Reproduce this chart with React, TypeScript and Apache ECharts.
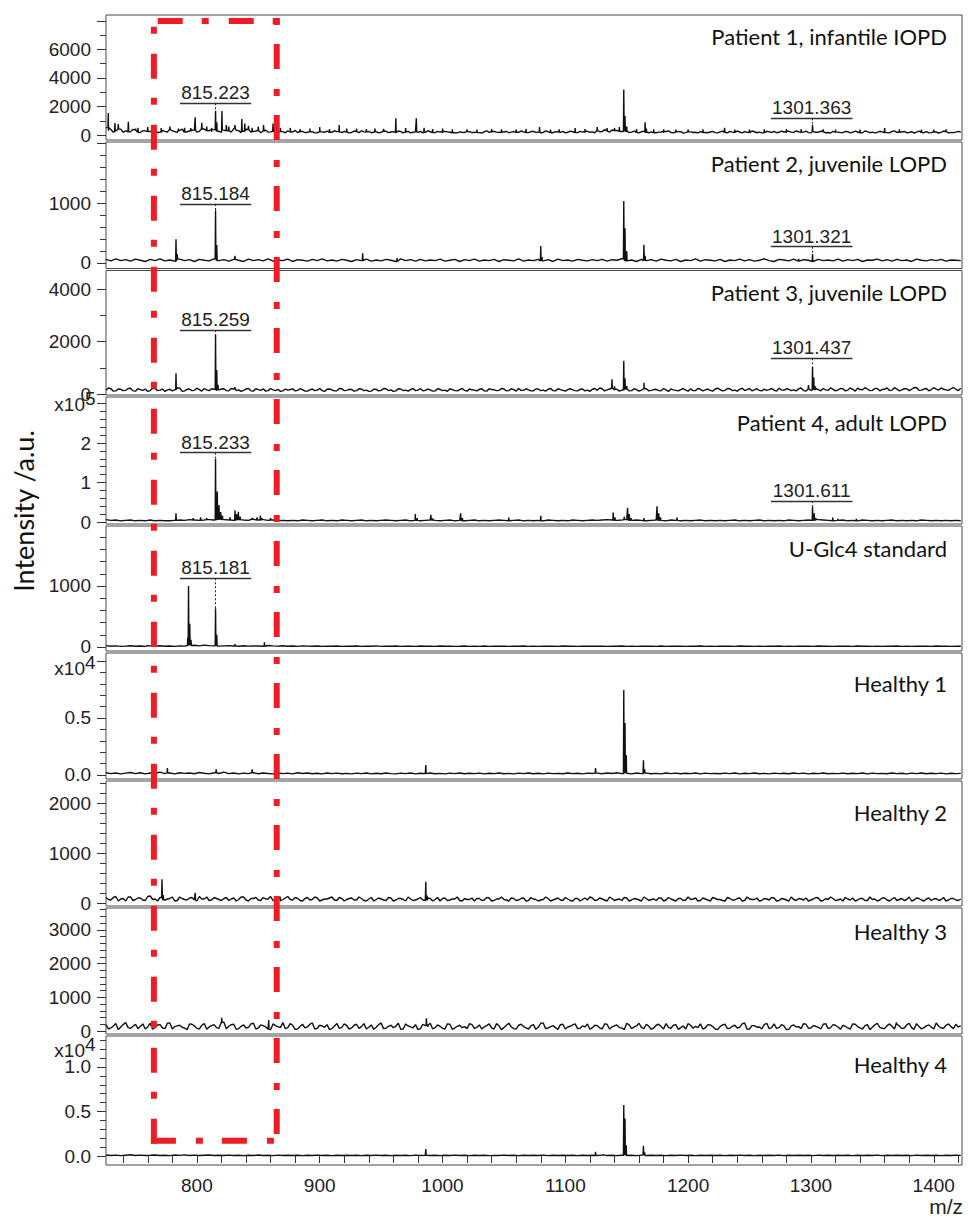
import React, { useEffect, useRef } from "react";
import * as echarts from "echarts";

// ---------- axis ranges / ticks ----------
const X_MIN = 726;
const X_MAX = 1423;
const MZ_START = 726;
const MZ_STEP = 4;
const X_TICK_STEP = 20;
const X_LABELS = [800, 900, 1000, 1100, 1200, 1300, 1400];

const PANEL_TITLES = [
  "Patient 1, infantile IOPD",
  "Patient 2, juvenile LOPD",
  "Patient 3, juvenile LOPD",
  "Patient 4, adult LOPD",
  "U-Glc4 standard",
  "Healthy 1",
  "Healthy 2",
  "Healthy 3",
  "Healthy 4",
];

const Y_MIN = [-350, -92, -38, -0.0506, -65.6, -0.0351, -60, -89, -0.101];
const Y_MAX = [8420, 2017, 4714, 3.165, 1983, 1.07, 2440, 3650, 1.348];
const Y_MAJOR_TICKS = [
  [0, 2000, 4000, 6000, 8000],
  [0, 1000, 2000],
  [0, 2000, 4000],
  [0, 1, 2, 3],
  [0, 1000],
  [0, 0.5, 1],
  [0, 1000, 2000],
  [0, 1000, 2000, 3000],
  [0, 0.5, 1],
];
const Y_TICK_LABELS = [
  [0, 2000, 4000, 6000],
  [0, 1000],
  [0, 2000, 4000],
  [0, 1, 2],
  [0, 1000],
  [0, 0.5],
  [0, 1000, 2000],
  [0, 1000, 2000, 3000],
  [0, 0.5, 1],
];
const Y_MINOR_STEP = [1000, 200, 1000, 0.2, 200, 0.1, 200, 200, 0.1];
const Y_DECIMALS = [0, 0, 0, 0, 0, 1, 0, 0, 1];
const EXPONENTS = ["", "", "", "5", "", "4", "", "", "4"];

// ---------- baseline noise (m/z 726..1422 every 4) ----------
const NOISE_P1 = [
  520, 380, 260, 410, 300, 220, 350, 180, 290, 240, 330, 200, 260, 380, 240, 310, 190, 280, 350, 260, 420, 300, 380, 260, 340,
  290, 450, 310, 260, 380, 240, 320, 280, 200, 260, 180, 240, 300, 210, 170, 250, 190, 230, 160, 220, 280, 190, 240, 170, 210,
  180, 240, 300, 200, 160, 230, 190, 260, 210, 170, 240, 200, 150, 220, 260, 180, 230, 170, 200, 250, 190, 160, 220, 180, 240,
  200, 170, 230, 190, 250, 180, 210, 160, 240, 190, 220, 170, 260, 200, 180, 230, 160, 210, 250, 190, 230, 170, 200, 260, 220,
  300, 240, 280, 350, 320, 250, 260, 200, 180, 230, 190, 220, 160, 210, 250, 180, 200, 230, 170, 220, 190, 240, 180, 210, 170,
  220, 190, 250, 180, 210, 240, 170, 230, 200, 160, 220, 250, 190, 210, 260, 180, 230, 200, 170, 240, 190, 220, 180, 250, 200,
  170, 230, 190, 210, 160, 240, 200, 180, 220, 170, 250, 190, 210, 160, 230, 200, 180, 240, 170, 210, 190, 230, 180, 200, 210,
];
const NOISE_P2 = [
  60, 35, 70, 40, 55, 30, 65, 45, 25, 60, 40, 70, 35, 50, 30, 65, 40, 55, 25, 60, 45, 35, 70, 40, 55,
  30, 60, 45, 25, 65, 40, 55, 35, 70, 30, 50, 40, 65, 25, 55, 45, 30, 60, 40, 70, 35, 50, 30, 60, 45,
  25, 55, 40, 65, 30, 50, 35, 60, 45, 25, 70, 40, 55, 30, 60, 35, 50, 40, 65, 30, 45, 60, 25, 55, 40,
  65, 30, 50, 40, 60, 25, 55, 45, 35, 70, 30, 50, 40, 60, 35, 55, 25, 65, 40, 50, 30, 60, 45, 35, 55,
  40, 60, 30, 55, 45, 70, 35, 50, 25, 60, 40, 55, 30, 65, 45, 35, 60, 25, 50, 40, 70, 30, 55, 45, 35,
  60, 25, 50, 40, 65, 35, 55, 30, 45, 70, 40, 25, 60, 50, 35, 65, 30, 55, 45, 25, 60, 40, 50, 35, 65,
  30, 55, 40, 60, 25, 50, 45, 65, 35, 55, 30, 60, 40, 50, 25, 65, 45, 35, 55, 40, 60, 30, 50, 45, 40,
];
const NOISE_P3 = [
  150, 200, 120, 180, 140, 220, 110, 170, 190, 130, 210, 150, 100, 180, 160, 230, 120, 190, 140, 170, 210, 130, 180, 150, 200,
  120, 190, 160, 140, 210, 110, 170, 200, 130, 160, 180, 120, 150, 200, 140, 170, 110, 190, 150, 130, 180, 160, 120, 200, 140,
  170, 130, 190, 150, 110, 180, 140, 200, 160, 120, 190, 150, 170, 130, 210, 140, 160, 120, 180, 150, 200, 130, 170, 140, 190,
  150, 180, 120, 200, 160, 140, 190, 130, 170, 210, 140, 160, 120, 190, 150, 180, 130, 200, 140, 170, 160, 120, 190, 150, 180,
  140, 200, 160, 220, 180, 150, 190, 130, 170, 150, 200, 140, 180, 120, 160, 190, 140, 170, 150, 200, 130, 180, 160, 140, 190,
  170, 140, 200, 150, 180, 130, 210, 160, 140, 190, 170, 150, 220, 140, 180, 160, 200, 130, 190, 150, 170, 210, 140, 180, 160,
  200, 150, 180, 220, 160, 190, 140, 210, 170, 230, 150, 190, 160, 200, 180, 240, 150, 210, 170, 190, 230, 160, 200, 180, 220,
];
const NOISE_P4 = [
  0.06, 0.04, 0.05, 0.03, 0.04, 0.05, 0.03, 0.04, 0.03, 0.05, 0.03, 0.04, 0.03, 0.03, 0.04, 0.05, 0.04, 0.06, 0.05, 0.04, 0.05, 0.06, 0.05, 0.07, 0.06,
  0.05, 0.04, 0.06, 0.05, 0.04, 0.07, 0.05, 0.06, 0.04, 0.05, 0.03, 0.04, 0.03, 0.04, 0.03, 0.05, 0.04, 0.03, 0.04, 0.05, 0.03, 0.04, 0.03, 0.05, 0.04,
  0.03, 0.04, 0.05, 0.03, 0.04, 0.03, 0.04, 0.05, 0.04, 0.03, 0.04, 0.05, 0.03, 0.04, 0.03, 0.04, 0.05, 0.04, 0.03, 0.04, 0.05, 0.03, 0.04, 0.03, 0.04,
  0.05, 0.03, 0.04, 0.03, 0.04, 0.05, 0.04, 0.03, 0.04, 0.05, 0.03, 0.04, 0.03, 0.04, 0.03, 0.05, 0.04, 0.03, 0.04, 0.03, 0.05, 0.04, 0.03, 0.04, 0.05,
  0.04, 0.05, 0.06, 0.05, 0.04, 0.05, 0.06, 0.04, 0.05, 0.04, 0.03, 0.04, 0.05, 0.04, 0.03, 0.05, 0.04, 0.03, 0.04, 0.03, 0.04, 0.05, 0.03, 0.04, 0.03,
  0.04, 0.03, 0.04, 0.05, 0.03, 0.04, 0.03, 0.04, 0.05, 0.03, 0.04, 0.03, 0.04, 0.03, 0.05, 0.04, 0.03, 0.04, 0.05, 0.04, 0.06, 0.05, 0.04, 0.03, 0.04,
  0.05, 0.03, 0.04, 0.03, 0.05, 0.04, 0.03, 0.04, 0.03, 0.04, 0.05, 0.03, 0.04, 0.03, 0.04, 0.03, 0.05, 0.04, 0.03, 0.04, 0.03, 0.04, 0.03, 0.04, 0.03,
];
const NOISE_P5 = [
  22, 12, 18, 10, 15, 20, 12, 16, 10, 18, 14, 20, 12, 16, 10, 18, 15, 24, 28, 18, 30, 22, 18, 14, 18,
  22, 16, 12, 20, 14, 18, 16, 12, 24, 18, 14, 20, 12, 16, 10, 18, 14, 12, 16, 10, 14, 12, 16, 10, 14,
  12, 16, 10, 14, 12, 18, 10, 14, 12, 16, 10, 14, 12, 10, 16, 12, 14, 10, 16, 12, 14, 10, 12, 16, 10,
  14, 11, 16, 10, 13, 12, 15, 10, 14, 12, 16, 11, 13, 10, 15, 12, 14, 10, 16, 12, 13, 10, 15, 12, 14,
  12, 15, 10, 14, 12, 16, 11, 13, 10, 15, 12, 14, 11, 16, 10, 13, 12, 15, 10, 14, 12, 16, 11, 13, 10,
  15, 12, 14, 10, 16, 12, 13, 11, 15, 10, 14, 12, 16, 11, 13, 10, 15, 12, 14, 11, 16, 12, 13, 10, 15,
  12, 14, 10, 16, 12, 13, 11, 15, 10, 14, 12, 16, 11, 13, 10, 15, 12, 14, 11, 16, 12, 13, 10, 15, 12,
];
const NOISE_P6 = [
  0.02, 0.012, 0.018, 0.01, 0.016, 0.022, 0.012, 0.02, 0.01, 0.017, 0.013, 0.025, 0.012, 0.018, 0.01, 0.02, 0.014, 0.018, 0.011, 0.022, 0.015, 0.01, 0.02, 0.013, 0.025,
  0.012, 0.018, 0.01, 0.016, 0.012, 0.02, 0.011, 0.017, 0.013, 0.01, 0.018, 0.012, 0.016, 0.01, 0.02, 0.013, 0.017, 0.011, 0.015, 0.01, 0.018, 0.012, 0.016, 0.011, 0.014,
  0.01, 0.016, 0.012, 0.018, 0.01, 0.015, 0.011, 0.017, 0.012, 0.01, 0.016, 0.012, 0.018, 0.01, 0.015, 0.012, 0.017, 0.011, 0.014, 0.01, 0.016, 0.012, 0.018, 0.011, 0.015,
  0.012, 0.016, 0.01, 0.015, 0.012, 0.018, 0.011, 0.014, 0.01, 0.016, 0.012, 0.017, 0.011, 0.015, 0.01, 0.016, 0.012, 0.014, 0.011, 0.018, 0.012, 0.015, 0.01, 0.016, 0.013,
  0.016, 0.011, 0.018, 0.013, 0.02, 0.012, 0.015, 0.01, 0.017, 0.012, 0.016, 0.011, 0.014, 0.01, 0.018, 0.012, 0.016, 0.011, 0.015, 0.012, 0.018, 0.01, 0.016, 0.012, 0.014,
  0.011, 0.016, 0.012, 0.018, 0.01, 0.015, 0.012, 0.017, 0.011, 0.014, 0.01, 0.016, 0.012, 0.015, 0.011, 0.018, 0.012, 0.016, 0.01, 0.015, 0.012, 0.017, 0.011, 0.014, 0.012,
  0.016, 0.011, 0.015, 0.012, 0.018, 0.01, 0.016, 0.012, 0.014, 0.011, 0.017, 0.012, 0.015, 0.01, 0.016, 0.012, 0.018, 0.011, 0.015, 0.012, 0.016, 0.01, 0.015, 0.012, 0.014,
];
const NOISE_P7 = [
  110, 60, 130, 80, 40, 120, 70, 100, 50, 140, 80, 110, 60, 90, 40, 120, 70, 100, 60, 130, 80, 50, 110, 70, 90,
  50, 100, 70, 120, 40, 90, 60, 110, 80, 50, 100, 70, 130, 60, 90, 40, 110, 70, 100, 60, 80, 120, 50, 90, 70,
  100, 60, 90, 40, 110, 70, 80, 50, 100, 60, 90, 40, 80, 60, 110, 50, 90, 70, 40, 100, 60, 80, 50, 90, 70,
  40, 90, 60, 100, 50, 80, 70, 40, 90, 60, 100, 50, 80, 40, 70, 90, 60, 100, 50, 80, 40, 90, 70, 60, 100,
  60, 80, 40, 90, 70, 50, 100, 60, 80, 40, 90, 70, 50, 100, 60, 80, 40, 90, 60, 70, 100, 50, 80, 40, 90,
  70, 40, 90, 60, 100, 50, 80, 70, 40, 90, 60, 100, 50, 80, 40, 70, 90, 60, 40, 80, 100, 50, 70, 90, 60,
  40, 80, 100, 60, 90, 50, 70, 40, 100, 60, 80, 50, 90, 70, 40, 100, 60, 80, 50, 90, 70, 40, 90, 60, 80,
];
const NOISE_P8 = [
  180, 90, 220, 120, 250, 80, 200, 140, 60, 230, 110, 190, 70, 240, 130, 170, 90, 210, 150, 60, 220, 120, 190, 80, 260,
  140, 200, 70, 180, 110, 230, 90, 160, 50, 210, 130, 250, 100, 170, 60, 200, 120, 240, 80, 150, 190, 70, 220, 110, 160,
  90, 200, 130, 60, 180, 110, 240, 80, 170, 140, 50, 210, 120, 190, 70, 160, 230, 100, 140, 60, 200, 90, 170, 130, 220,
  80, 180, 120, 210, 60, 150, 100, 230, 70, 170, 130, 60, 190, 110, 240, 90, 160, 50, 200, 120, 180, 70, 150, 210, 100,
  160, 60, 200, 120, 180, 90, 230, 70, 150, 110, 200, 50, 170, 130, 220, 80, 190, 100, 60, 170, 140, 210, 90, 180, 60,
  130, 200, 80, 170, 110, 240, 60, 160, 120, 190, 70, 210, 100, 150, 50, 180, 130, 220, 80, 160, 110, 200, 70, 190, 120,
  170, 90, 210, 130, 60, 190, 110, 230, 80, 160, 140, 200, 70, 180, 100, 220, 60, 150, 120, 240, 90, 170, 130, 200, 150,
];
const NOISE_P9 = [
  0.012, 0.006, 0.01, 0.004, 0.009, 0.014, 0.006, 0.01, 0.005, 0.008, 0.012, 0.006, 0.009, 0.004, 0.011, 0.007, 0.013, 0.005, 0.01, 0.006, 0.009, 0.012, 0.005, 0.008, 0.006,
  0.01, 0.005, 0.008, 0.004, 0.009, 0.006, 0.011, 0.005, 0.008, 0.004, 0.01, 0.006, 0.008, 0.005, 0.009, 0.004, 0.008, 0.006, 0.01, 0.005, 0.008, 0.004, 0.009, 0.006, 0.008,
  0.005, 0.009, 0.004, 0.008, 0.006, 0.01, 0.005, 0.008, 0.004, 0.009, 0.006, 0.008, 0.004, 0.01, 0.005, 0.008, 0.006, 0.009, 0.004, 0.008, 0.005, 0.01, 0.006, 0.008, 0.004,
  0.008, 0.005, 0.009, 0.004, 0.007, 0.006, 0.01, 0.005, 0.008, 0.004, 0.009, 0.006, 0.008, 0.005, 0.01, 0.004, 0.008, 0.006, 0.009, 0.005, 0.008, 0.004, 0.009, 0.006, 0.008,
  0.006, 0.01, 0.005, 0.008, 0.004, 0.009, 0.006, 0.008, 0.004, 0.01, 0.005, 0.008, 0.006, 0.009, 0.004, 0.008, 0.005, 0.01, 0.006, 0.008, 0.004, 0.009, 0.005, 0.008, 0.006,
  0.009, 0.004, 0.008, 0.006, 0.01, 0.005, 0.008, 0.004, 0.009, 0.006, 0.008, 0.005, 0.01, 0.004, 0.008, 0.006, 0.009, 0.005, 0.008, 0.004, 0.01, 0.006, 0.008, 0.005, 0.009,
  0.005, 0.008, 0.004, 0.009, 0.006, 0.008, 0.005, 0.01, 0.004, 0.008, 0.006, 0.009, 0.005, 0.008, 0.004, 0.01, 0.006, 0.008, 0.005, 0.009, 0.004, 0.008, 0.006, 0.009, 0.007,
];

// extra noise samples in between (m/z 728..1420 every 4) for the fuzzier spectra
const NOISE_MID_P1 = [
  300, 200, 450, 180, 260, 400, 170, 300, 220, 380, 160, 320, 210, 300, 180, 420, 230, 330, 200, 380, 260, 210, 300, 190, 280,
  200, 330, 170, 400, 190, 280, 160, 350, 220, 180, 300, 150, 260, 320, 190, 170, 300, 150, 280, 190, 160, 300, 170, 260, 150,
  280, 160, 220, 260, 190, 150, 300, 170, 240, 280, 150, 260, 190, 180, 150, 300, 160, 250, 140, 220, 280, 150, 190, 250, 160,
  250, 140, 290, 170, 200, 150, 260, 200, 150, 280, 160, 240, 180, 150, 290, 150, 240, 180, 150, 270, 160, 250, 150, 190, 160,
  230, 380, 200, 260, 220, 380, 180, 280, 150, 270, 160, 260, 200, 150, 290, 160, 250, 140, 260, 180, 150, 270, 160, 260, 150,
  270, 150, 200, 280, 150, 190, 280, 160, 150, 260, 180, 160, 270, 150, 200, 290, 150, 270, 150, 190, 280, 160, 140, 260, 170,
  250, 150, 270, 140, 280, 160, 150, 260, 190, 150, 290, 150, 250, 180, 140, 280, 160, 150, 260, 140, 280, 150, 170, 260,
];
const NOISE_MID_P3 = [
  230, 110, 190, 130, 210, 120, 200, 140, 100, 220, 130, 190, 160, 120, 210, 100, 180, 130, 220, 110, 160, 200, 120, 190, 130,
  210, 130, 100, 190, 120, 200, 140, 110, 210, 130, 100, 190, 170, 120, 200, 110, 160, 130, 210, 100, 190, 120, 210, 130, 180,
  110, 200, 130, 100, 180, 120, 210, 130, 100, 200, 130, 110, 210, 150, 120, 190, 110, 200, 130, 100, 170, 120, 210, 110, 160,
  120, 200, 110, 170, 130, 210, 120, 200, 110, 140, 200, 120, 190, 130, 110, 210, 120, 170, 110, 200, 130, 180, 120, 100, 210,
  230, 120, 190, 140, 110, 210, 120, 200, 110, 230, 120, 170, 130, 210, 100, 160, 120, 210, 110, 130, 210, 120, 190, 110, 220,
  120, 210, 130, 110, 220, 170, 120, 200, 120, 140, 210, 110, 160, 200, 130, 120, 230, 110, 140, 210, 120, 160, 230, 120, 210,
  120, 230, 110, 170, 240, 130, 210, 120, 180, 130, 240, 120, 200, 130, 250, 140, 190, 120, 240, 150, 180, 140, 250, 130,
];
const NOISE_MID_P7 = [
  70, 110, 40, 90, 120, 50, 100, 60, 130, 70, 40, 100, 80, 120, 50, 90, 60, 110, 40, 80, 120, 60, 90, 50, 110,
  80, 40, 120, 60, 90, 110, 50, 80, 130, 60, 40, 100, 70, 110, 50, 90, 60, 120, 40, 80, 100, 60, 110, 40, 90,
  60, 120, 50, 80, 40, 100, 60, 110, 40, 90, 70, 120, 50, 80, 60, 100, 40, 110, 90, 50, 80, 120, 40, 70, 100,
  90, 50, 110, 40, 80, 120, 60, 100, 50, 90, 40, 110, 70, 60, 120, 40, 80, 60, 110, 50, 90, 40, 100, 120, 50,
  100, 60, 120, 50, 80, 110, 40, 90, 60, 120, 50, 80, 100, 40, 110, 60, 90, 50, 120, 80, 40, 100, 60, 110, 70,
  50, 110, 60, 90, 40, 120, 70, 100, 50, 80, 110, 40, 90, 60, 120, 50, 80, 100, 60, 110, 40, 90, 120, 50, 80,
  110, 60, 40, 90, 50, 120, 80, 60, 100, 40, 110, 70, 50, 120, 60, 90, 40, 100, 80, 50, 110, 60, 90, 50,
];
const NOISE_MID_P8 = [
  60, 150, 40, 190, 100, 140, 70, 210, 120, 50, 180, 90, 230, 60, 150, 110, 40, 200, 80, 170, 50, 160, 100, 220, 70,
  190, 50, 140, 90, 210, 60, 180, 120, 40, 160, 100, 70, 220, 50, 130, 90, 200, 60, 170, 110, 40, 150, 80, 210, 60,
  170, 80, 220, 110, 50, 190, 70, 140, 100, 230, 60, 150, 90, 40, 200, 120, 60, 180, 80, 210, 50, 140, 100, 70, 190,
  110, 60, 160, 90, 220, 40, 170, 120, 60, 200, 90, 150, 50, 230, 70, 130, 100, 190, 60, 140, 210, 80, 120, 50, 170,
  90, 210, 60, 150, 100, 40, 180, 120, 230, 70, 140, 90, 200, 60, 110, 170, 50, 150, 220, 80, 100, 60, 190, 130, 40,
  180, 70, 140, 90, 210, 50, 160, 110, 60, 230, 100, 80, 190, 40, 150, 120, 70, 200, 90, 140, 60, 220, 100, 170, 50,
  140, 60, 200, 90, 160, 40, 180, 110, 70, 210, 60, 150, 90, 230, 50, 130, 100, 180, 60, 140, 80, 210, 70, 120,
];

// ---------- peaks [m/z, intensity] ----------
const PEAKS_P1 = [
  [727.9, 1540], [733.3, 840], [736, 770], [744.2, 930], [750, 450], [752, 500], [760, 550], [765, 520], [771, 480],
  [778, 600], [785, 450], [790, 500], [795, 480], [798.6, 1240], [804, 850], [808, 600], [812, 500], [815.2, 1700],
  [816.2, 900], [820.4, 1680], [824, 700], [826, 600], [831, 700], [836.6, 1120], [839, 800], [842, 650], [845, 500],
  [850, 600], [854.3, 700], [862, 800], [868, 480], [876, 500], [884, 420], [892, 450], [900, 550], [908, 420],
  [915.9, 700], [922, 460], [930, 450], [938, 420], [945, 450], [952, 440], [962, 1170], [970, 480], [978.7, 1170],
  [985, 500], [992, 420], [1000, 450], [1008, 400], [1020, 400], [1028, 380], [1040, 420], [1048, 400], [1060, 380],
  [1068, 420], [1079, 560], [1088, 380], [1095, 400], [1108, 480], [1116, 420], [1126, 560], [1134, 480],
  [1140, 500], [1144, 550], [1147.6, 3200], [1148.6, 1340], [1150, 600], [1158, 420], [1165, 900], [1166, 450],
  [1172, 400], [1180, 400], [1190, 380], [1200, 380], [1212, 400], [1229.7, 500], [1238, 380], [1250, 380],
  [1262, 400], [1280, 420], [1292, 420], [1301.3, 700], [1310, 400], [1320, 380], [1340, 380], [1360, 480],
  [1372, 400], [1390, 380], [1400, 380], [1410, 400],
];
const PEAKS_P2 = [
  [783, 395], [784, 150], [815.2, 880], [816.2, 300], [831, 120], [935, 160], [963, 80], [1080, 283], [1081, 100],
  [1147.6, 1033], [1148.6, 580], [1150, 200], [1164, 305], [1165, 120], [1290, 70], [1301.3, 150],
];
const PEAKS_P3 = [
  [783, 790], [784, 260], [815.2, 2280], [816.2, 915], [817.2, 350], [831, 260], [1138, 560], [1140, 300],
  [1147.6, 1270], [1148.6, 600], [1150, 300], [1164, 430], [1298, 340], [1301.3, 1040], [1302.3, 640], [1303.3, 300],
];
const PEAKS_P4 = [
  [783, 0.22], [797, 0.1], [803, 0.12], [808, 0.1], [815.2, 1.61], [816.6, 0.77], [818, 0.43], [819.4, 0.25],
  [820.8, 0.16], [827, 0.12], [831, 0.3], [832.4, 0.2], [833.8, 0.26], [835.2, 0.14], [845, 0.1], [849, 0.12],
  [851.7, 0.16], [853, 0.1], [860, 0.1], [977.9, 0.2], [979.3, 0.1], [990.5, 0.18], [991.9, 0.09], [1014.8, 0.22],
  [1016.2, 0.1], [1054, 0.11], [1080, 0.16], [1139, 0.24], [1140.4, 0.12], [1148, 0.13], [1150.7, 0.36],
  [1152.1, 0.2], [1153.5, 0.1], [1164, 0.1], [1174.7, 0.4], [1176.1, 0.22], [1177.5, 0.12], [1191, 0.11],
  [1301.3, 0.39], [1302.7, 0.22], [1304.1, 0.1], [1317.8, 0.11], [1322, 0.08], [1337, 0.08],
];
const PEAKS_P5 = [
  [760, 30], [792.6, 150], [793.2, 1000], [794.2, 380], [795.2, 120], [815.2, 635], [816.2, 200], [831, 45], [855, 77],
];
const PEAKS_P6 = [
  [776, 0.06], [815.7, 0.05], [845, 0.05], [986.4, 0.088], [1124.6, 0.06], [1147.6, 0.746], [1148.6, 0.456],
  [1149.6, 0.175], [1163.6, 0.13], [1164.6, 0.05],
];
const PEAKS_P7 = [[771.6, 473], [772.6, 160], [798.6, 205], [867.6, 127], [986.4, 427], [987.4, 150]];
const PEAKS_P8 = [[820.2, 395], [858.5, 326], [986.9, 376], [987.9, 200], [1369.6, 258]];
const PEAKS_P9 = [
  [986.4, 0.079], [1124.6, 0.048], [1131, 0.02], [1147.6, 0.573], [1148.6, 0.42], [1149.6, 0.12], [1163.6, 0.116],
  [1164.6, 0.04],
];

const NOISE = [NOISE_P1, NOISE_P2, NOISE_P3, NOISE_P4, NOISE_P5, NOISE_P6, NOISE_P7, NOISE_P8, NOISE_P9];
const NOISE_MID = [NOISE_MID_P1, [], NOISE_MID_P3, [], [], [], NOISE_MID_P7, NOISE_MID_P8, []];
const PEAKS = [PEAKS_P1, PEAKS_P2, PEAKS_P3, PEAKS_P4, PEAKS_P5, PEAKS_P6, PEAKS_P7, PEAKS_P8, PEAKS_P9];

// ---------- peak labels: [panel, text, label m/z, underline level, peak m/z, peak top] ----------
const ANNOTATIONS: [number, string, number, number, number, number][] = [
  [0, "815.223", 815.2, 2225, 815.2, 1700],
  [0, "1301.363", 1300.6, 1172, 1301.3, 700],
  [1, "815.184", 815.2, 983, 815.2, 880],
  [1, "1301.321", 1300.6, 272, 1301.3, 150],
  [2, "815.259", 815.2, 2443, 815.2, 2280],
  [2, "1301.437", 1300.6, 1363, 1301.3, 1040],
  [3, "815.233", 815.2, 1.755, 815.2, 1.61],
  [3, "1301.611", 1300.6, 0.53, 1301.3, 0.39],
  [4, "815.181", 815.2, 1126, 815.2, 635],
];

// red dash-dot box: m/z range, top level in panel 1, bottom level in panel 9
const BOX_MZ = [765, 865];
const BOX_TOP_VALUE = 8000;
const BOX_BOTTOM_VALUE = 0.17;

// ---------- layout ----------
const GRID_LEFT = 106;
const GRID_WIDTH = 856;
const PANEL_TOP = [15, 142, 270.5, 397, 526, 653, 781, 908, 1036];
const PANEL_BOTTOM = [140, 268.5, 395, 524, 651, 779, 906, 1034, 1165];
const TITLE_Y = [36, 163, 292, 422, 548, 683, 812, 931, 1064];
const EXP_Y = [0, 0, 0, 404, 0, 668, 0, 0, 1050];
const ARIAL = "Liberation Sans";
const TITLE_FONT = "Lato";

function steps(min: number, max: number, step: number) {
  const out: number[] = [];
  for (let k = Math.ceil(min / step - 1e-9); k * step <= max + 1e-9; k++) out.push(+(k * step).toFixed(4));
  return out;
}

function buildSpectrum(noise: number[], mid: number[], peaks: number[][]) {
  const pts: number[][] = noise.map((v, i) => [MZ_START + i * MZ_STEP, v]);
  mid.forEach((v, i) => pts.push([MZ_START + MZ_STEP / 2 + i * MZ_STEP, v]));
  for (const [mz, h] of peaks) {
    const idx = Math.min(noise.length - 1, Math.max(0, Math.round((mz - MZ_START) / MZ_STEP)));
    const base = noise[idx];
    pts.push([mz - 0.3, base], [mz, h], [mz + 0.3, base]);
  }
  pts.sort((a, b) => a[0] - b[0]);
  return pts;
}

function buildOption() {
  const grids: any[] = [];
  const xAxes: any[] = [];
  const yAxes: any[] = [];
  const series: any[] = [];
  for (let p = 0; p < 9; p++) {
    grids.push({
      left: GRID_LEFT,
      width: GRID_WIDTH,
      top: PANEL_TOP[p],
      height: PANEL_BOTTOM[p] - PANEL_TOP[p],
      show: true,
      borderColor: "#4a4a4a",
      borderWidth: 1,
      backgroundColor: "transparent",
      outerBoundsMode: "none",
    });
    const last = p === 8;
    xAxes.push({
      type: "value",
      gridIndex: p,
      min: X_MIN,
      max: X_MAX,
      show: last,
      position: "bottom",
      axisLine: { show: false },
      splitLine: { show: false },
      axisTick: {
        show: true,
        customValues: steps(740, 1420, X_TICK_STEP),
        length: 7,
        lineStyle: { color: "#333", width: 1 },
      },
      axisLabel: {
        show: true,
        customValues: X_LABELS,
        formatter: (v: number) => String(v),
        fontFamily: ARIAL,
        fontSize: 19,
        color: "#222",
        margin: 11,
      },
    });
    const dec = Y_DECIMALS[p];
    yAxes.push({
      type: "value",
      gridIndex: p,
      min: Y_MIN[p],
      max: Y_MAX[p],
      position: "left",
      axisLine: { show: false },
      splitLine: { show: false },
      axisTick: {
        show: true,
        customValues: Y_MAJOR_TICKS[p],
        length: 9,
        lineStyle: { color: "#333", width: 1 },
      },
      axisLabel: {
        show: true,
        customValues: Y_TICK_LABELS[p],
        formatter: (v: number) => (dec ? v.toFixed(dec) : String(v)),
        fontFamily: ARIAL,
        fontSize: 19,
        color: "#222",
        margin: 15,
      },
    });
    yAxes.push({
      type: "value",
      gridIndex: p,
      min: Y_MIN[p],
      max: Y_MAX[p],
      position: "left",
      axisLine: { show: false },
      splitLine: { show: false },
      axisTick: {
        show: true,
        customValues: steps(0, Y_MAX[p], Y_MINOR_STEP[p]),
        length: 6,
        lineStyle: { color: "#333", width: 1 },
      },
      axisLabel: { show: false },
    });

    const mlData: any[] = [];
    for (const [ap, text, lmz, uv, pmz, ptop] of ANNOTATIONS) {
      if (ap !== p) continue;
      const half = text.length * 4.15;
      mlData.push([
        {
          coord: [lmz - half, uv],
          lineStyle: { type: "solid", color: "#333", width: 1.3 },
          label: {
            show: true,
            formatter: text,
            position: "insideMiddleTop",
            distance: 1,
            fontFamily: ARIAL,
            fontSize: 19,
            color: "#222",
          },
        },
        { coord: [lmz + half, uv] },
      ]);
      mlData.push([
        { coord: [pmz, uv], lineStyle: { type: [2, 2], color: "#222", width: 1 }, label: { show: false } },
        { coord: [pmz, ptop] },
      ]);
    }

    series.push({
      type: "line",
      xAxisIndex: p,
      yAxisIndex: 2 * p,
      data: buildSpectrum(NOISE[p], NOISE_MID[p], PEAKS[p]),
      showSymbol: false,
      symbol: "none",
      silent: true,
      clip: true,
      lineStyle: { color: "#111", width: 1.4 },
      markLine: mlData.length
        ? { symbol: ["none", "none"], silent: true, animation: false, label: { show: false }, data: mlData }
        : undefined,
    });
  }
  return {
    animation: false,
    textStyle: { fontFamily: ARIAL },
    grid: grids,
    xAxis: xAxes,
    yAxis: yAxes,
    series,
  };
}

function buildGraphic(chart: any) {
  const toPx = (p: number, mz: number, v: number) =>
    chart.convertToPixel({ xAxisIndex: p, yAxisIndex: 2 * p }, [mz, v]) as number[];
  const els: any[] = [];
  PANEL_TITLES.forEach((t, p) => {
    els.push({
      type: "text",
      x: 947,
      y: TITLE_Y[p],
      silent: true,
      style: { text: t, fontFamily: TITLE_FONT, fontSize: 22, fill: "#111", align: "right", verticalAlign: "middle" },
    });
  });
  EXPONENTS.forEach((e, p) => {
    if (!e) return;
    els.push({
      type: "text",
      x: 85,
      y: EXP_Y[p],
      silent: true,
      style: { text: "x10", fontFamily: ARIAL, fontSize: 19, fill: "#222", align: "right", verticalAlign: "middle" },
    });
    els.push({
      type: "text",
      x: 85,
      y: EXP_Y[p] - 6,
      silent: true,
      style: { text: e, fontFamily: ARIAL, fontSize: 19, fill: "#222", align: "left", verticalAlign: "middle" },
    });
  });
  els.push({
    type: "text",
    x: 23,
    y: 511,
    rotation: Math.PI / 2,
    silent: true,
    style: { text: "Intensity /a.u.", fontFamily: TITLE_FONT, fontSize: 27, fill: "#111", align: "center", verticalAlign: "middle" },
  });
  els.push({
    type: "text",
    x: 963,
    y: 1206,
    silent: true,
    style: { text: "m/z", fontFamily: ARIAL, fontSize: 21, fill: "#222", align: "right", verticalAlign: "middle" },
  });
  const [L, T] = toPx(0, BOX_MZ[0], BOX_TOP_VALUE);
  const [R] = toPx(0, BOX_MZ[1], BOX_TOP_VALUE);
  const B = toPx(8, BOX_MZ[0], BOX_BOTTOM_VALUE)[1];
  const red = "#ee1c24";
  const dashA = [25, 20, 7, 19];
  const dashB = [7, 19, 25, 20];
  const seg = (x1: number, y1: number, x2: number, y2: number, dash: number[]) => ({
    type: "line",
    silent: true,
    z: 100,
    shape: { x1, y1, x2, y2 },
    style: { stroke: red, lineWidth: 6, lineDash: dash, lineCap: "butt" },
  });
  els.push(seg(L, B + 3, L, T, dashA));
  els.push(seg(L - 3, B, R, B, dashA));
  els.push(seg(R + 3, T, L, T, dashB));
  els.push(seg(R, T - 3, R, B, dashB));
  return { elements: els };
}

export default function App() {
  const ref = useRef<HTMLDivElement>(null);
  useEffect(() => {
    const chart = echarts.init(ref.current!, null, { renderer: "svg" });
    chart.setOption(buildOption() as any);
    chart.setOption({ graphic: buildGraphic(chart) } as any);
    return () => chart.dispose();
  }, []);
  return (
    <div
      ref={ref}
      style={{ position: "absolute", left: 0, top: 0, width: 968, height: 1216, background: "#fff" }}
    />
  );
}
